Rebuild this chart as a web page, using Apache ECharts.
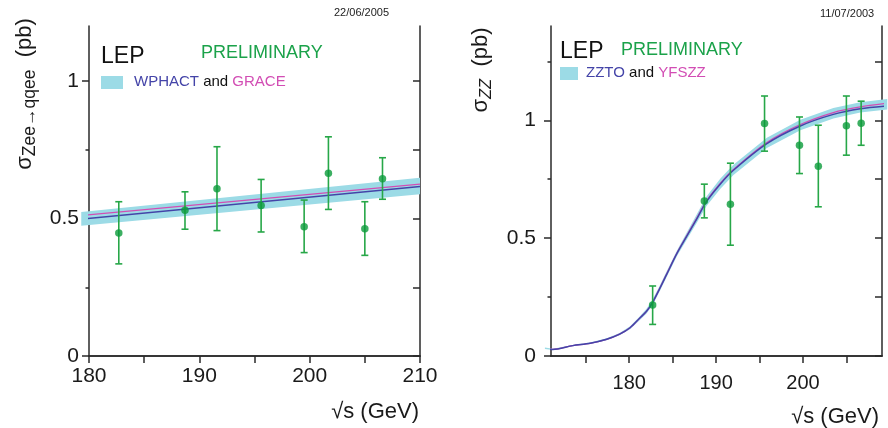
<!DOCTYPE html>
<html><head><meta charset="utf-8">
<script src="https://cdn.jsdelivr.net/npm/echarts@6/dist/echarts.min.js"></script>
<style>html,body{margin:0;padding:0;background:#fff}#c{width:888px;height:428px}</style>
</head><body><div id="c"></div>
<script>
// ---------- Left panel: sigma(Zee -> qqee) ----------
const zeeEnergy = [182.7, 188.7, 191.6, 195.6, 199.5, 201.7, 205.0, 206.6];
const zeeSigma  = [0.447, 0.530, 0.608, 0.547, 0.470, 0.665, 0.463, 0.645];
const zeeErrUp  = [0.114, 0.067, 0.153, 0.095, 0.097, 0.132, 0.098, 0.076];
const zeeErrDn  = [0.112, 0.069, 0.152, 0.096, 0.094, 0.132, 0.097, 0.075];
const zeeTheoryX     = [179.3, 210];
const zeeWphact      = [0.498, 0.616];
const zeeGrace       = [0.511, 0.625];
const zeeBandLow     = [0.474, 0.588];
const zeeBandHigh    = [0.524, 0.648];
const zeeXMajor = [180, 190, 200, 210];
const zeeXMinor = [185, 195, 205];
const zeeYMajor = [0, 0.5, 1];
const zeeYMinor = [0.25, 0.75];

// ---------- Right panel: sigma(ZZ) ----------
const zzEnergy = [182.7, 188.65, 191.65, 195.58, 199.6, 201.77, 205.0, 206.7];
const zzSigma  = [0.216, 0.658, 0.644, 0.986, 0.894, 0.805, 0.977, 0.987];
const zzErrUp  = [0.081, 0.071, 0.174, 0.117, 0.120, 0.174, 0.126, 0.094];
const zzErrDn  = [0.082, 0.072, 0.174, 0.117, 0.120, 0.172, 0.125, 0.093];
const zzTheoryX = [170.3, 171.2, 173.5, 175.5, 177.4, 178.9, 180.1, 181.2, 182.0, 182.7, 183.5, 184.3, 185.5, 186.6, 187.8, 188.9, 190.5, 192.0, 195.85, 199.7, 203.5, 206.6, 209.7];
const zzZzto    = [0.033, 0.028, 0.044, 0.054, 0.071, 0.093, 0.120, 0.160, 0.190, 0.228, 0.285, 0.345, 0.435, 0.506, 0.583, 0.655, 0.730, 0.788, 0.901, 0.976, 1.025, 1.049, 1.061];
const zzYfszz   = [0.033, 0.028, 0.044, 0.054, 0.071, 0.093, 0.120, 0.160, 0.190, 0.228, 0.286, 0.347, 0.437, 0.509, 0.586, 0.658, 0.733, 0.791, 0.906, 0.982, 1.033, 1.057, 1.072];
const zzBandLow = [0.030, 0.025, 0.041, 0.051, 0.067, 0.088, 0.114, 0.152, 0.180, 0.216, 0.274, 0.334, 0.424, 0.492, 0.566, 0.636, 0.710, 0.768, 0.882, 0.958, 1.008, 1.033, 1.046];
const zzBandHigh= [0.036, 0.031, 0.047, 0.057, 0.075, 0.098, 0.126, 0.168, 0.200, 0.240, 0.297, 0.358, 0.448, 0.522, 0.602, 0.677, 0.753, 0.811, 0.926, 1.002, 1.052, 1.077, 1.090];
const zzXMajor = [180, 190, 200];
const zzXMinor = [175, 185, 195, 205];
const zzYMajor = [0, 0.5, 1];
const zzYMinor = [0.25, 0.75, 1.25];

// ---------- styling ----------
const FONT = '"Liberation Sans", Arial, Helvetica, sans-serif';
const FRAME = '#2a2a2a';
const BAND = '#9cdbe6';
const BLUE = '#4444a8';
const MAGENTA = '#d24db4';
const GREEN_PT = '#0b9b3b';
const GREEN_ERR = '#27a748';
const GREEN_TXT = '#1ba24a';

function merge(a, b) { return a.concat(b).sort((p, q) => p - q); }

function axesFor(g, xr, yr, xMaj, xMin, yMaj, yMin, xLabelMargin, yLabelMargin, xFont) {
  const line = { show: true, lineStyle: { color: FRAME, width: 1.5 } };
  const xs = [
    { gridIndex: g, type: 'value', position: 'bottom', min: xr[0], max: xr[1], axisLine: line,
      axisTick: { show: true, customValues: xMaj, length: 7, inside: false, lineStyle: { color: FRAME, width: 1.5 } },
      axisLabel: { show: true, customValues: xMaj, fontSize: xFont, fontFamily: FONT, color: '#1a1a1a', margin: xLabelMargin },
      splitLine: { show: false } },
    { gridIndex: g, type: 'value', position: 'bottom', min: xr[0], max: xr[1], axisLine: { show: false },
      axisTick: { show: true, customValues: xMin, length: 3.5, inside: false, lineStyle: { color: FRAME, width: 1.5 } },
      axisLabel: { show: false }, splitLine: { show: false } },
    { gridIndex: g, type: 'value', position: 'top', min: xr[0], max: xr[1], axisLine: line,
      axisTick: { show: true, customValues: merge(xMaj, xMin), length: 7, inside: true, lineStyle: { color: FRAME, width: 1.5 } },
      axisLabel: { show: false }, splitLine: { show: false } }
  ];
  const ys = [
    { gridIndex: g, type: 'value', position: 'left', min: yr[0], max: yr[1], axisLine: line,
      axisTick: { show: true, customValues: yMaj, length: 7, inside: false, lineStyle: { color: FRAME, width: 1.5 } },
      axisLabel: { show: true, customValues: yMaj, fontSize: 21, fontFamily: FONT, color: '#1a1a1a', margin: yLabelMargin },
      splitLine: { show: false } },
    { gridIndex: g, type: 'value', position: 'left', min: yr[0], max: yr[1], axisLine: { show: false },
      axisTick: { show: true, customValues: yMin, length: 3.5, inside: false, lineStyle: { color: FRAME, width: 1.5 } },
      axisLabel: { show: false }, splitLine: { show: false } },
    { gridIndex: g, type: 'value', position: 'right', min: yr[0], max: yr[1], axisLine: line,
      axisTick: { show: true, customValues: merge(yMaj, yMin), length: 7, inside: true, lineStyle: { color: FRAME, width: 1.5 } },
      axisLabel: { show: false }, splitLine: { show: false } }
  ];
  return { xs, ys };
}

const L = axesFor(0, [180, 210], [0, 1.2], zeeXMajor, zeeXMinor, zeeYMajor, zeeYMinor, 10, 10, 21);
const R = axesFor(1, [171, 209.1], [0, 1.4], zzXMajor, zzXMinor, zzYMajor, zzYMinor, 17, 15, 20);

function pairs(xs, ys) { return xs.map((x, i) => [x, ys[i]]); }
function errData(xs, ys, up, dn) { return xs.map((x, i) => [x, ys[i] - dn[i], ys[i] + up[i]]); }

function panelSeries(xi, yi, tx, lo, hi, magenta, blue, ex, ey, eu, ed, smooth) {
  // band polygon: upper edge forward, lower edge backward, mapped through the axes
  const bandData = pairs(tx, hi).concat(pairs(tx, lo).reverse());
  return [
    { type: 'custom', xAxisIndex: xi, yAxisIndex: yi, data: [0], clip: false, silent: true, z: 1,
      renderItem: function (params, api) {
        const pts = bandData.map(p => api.coord(p));
        return { type: 'polygon', shape: { points: pts }, style: { fill: BAND, stroke: null } };
      } },
    { type: 'line', xAxisIndex: xi, yAxisIndex: yi, data: pairs(tx, magenta), symbol: 'none',
      lineStyle: { color: MAGENTA, width: 1.3 }, clip: false, smooth: smooth, z: 2 },
    { type: 'line', xAxisIndex: xi, yAxisIndex: yi, data: pairs(tx, blue), symbol: 'none',
      lineStyle: { color: BLUE, width: 1.5 }, clip: false, smooth: smooth, z: 3 },
    { type: 'custom', xAxisIndex: xi, yAxisIndex: yi, data: errData(ex, ey, eu, ed), z: 4,
      encode: { x: 0, y: [1, 2] },
      renderItem: function (params, api) {
        const x = api.value(0);
        const top = api.coord([x, api.value(2)]);
        const bot = api.coord([x, api.value(1)]);
        const w = 3.5;
        const st = { stroke: GREEN_ERR, lineWidth: 1.6 };
        return { type: 'group', children: [
          { type: 'line', shape: { x1: top[0], y1: top[1], x2: bot[0], y2: bot[1] }, style: st },
          { type: 'line', shape: { x1: top[0] - w, y1: top[1], x2: top[0] + w, y2: top[1] }, style: st },
          { type: 'line', shape: { x1: bot[0] - w, y1: bot[1], x2: bot[0] + w, y2: bot[1] }, style: st }
        ] };
      } },
    { type: 'scatter', xAxisIndex: xi, yAxisIndex: yi, data: pairs(ex, ey), symbol: 'circle', symbolSize: 7.5,
      itemStyle: { color: GREEN_PT }, z: 5 }
  ];
}

const series = [].concat(
  panelSeries(0, 0, zeeTheoryX, zeeBandLow, zeeBandHigh, zeeGrace, zeeWphact, zeeEnergy, zeeSigma, zeeErrUp, zeeErrDn, false),
  panelSeries(3, 3, zzTheoryX, zzBandLow, zzBandHigh, zzYfszz, zzZzto, zzEnergy, zzSigma, zzErrUp, zzErrDn, 0.3)
);

function txt(x, y, text, size, color, align, extra) {
  return Object.assign({ type: 'text', x: x, y: y, z: 10,
    style: { text: text, fontSize: size, fontFamily: FONT, fill: color, align: align || 'left', verticalAlign: 'middle' } }, extra || {});
}

const graphic = [
  // left panel
  txt(334, 13, '22/06/2005', 11, '#222'),
  txt(101, 57, 'LEP', 23, '#111'),
  txt(201, 53, 'PRELIMINARY', 18, GREEN_TXT),
  { type: 'rect', shape: { x: 101, y: 76, width: 22, height: 13 }, style: { fill: BAND }, z: 10 },
  { type: 'text', x: 134, y: 82, z: 10, style: { text: '{b|WPHACT} and {m|GRACE}', fontSize: 15, fontFamily: FONT, fill: '#111',
      verticalAlign: 'middle', rich: { b: { fill: BLUE, fontSize: 15, fontFamily: FONT }, m: { fill: MAGENTA, fontSize: 15, fontFamily: FONT } } } },
  txt(419, 412, '√s (GeV)', 22, '#1a1a1a', 'right'),
  { type: 'text', x: 25, y: 94, rotation: Math.PI / 2, z: 10,
    style: { text: '{m|σ}{s|Zee→qqee}{m|  (pb)}', align: 'center', verticalAlign: 'middle', fill: '#1a1a1a',
      rich: { m: { fontSize: 22, fontFamily: FONT, lineHeight: 28, fill: '#1a1a1a' },
              s: { fontSize: 17.5, fontFamily: FONT, verticalAlign: 'bottom', fill: '#1a1a1a' } } } },
  // right panel
  txt(820, 14, '11/07/2003', 11, '#222'),
  txt(560, 52, 'LEP', 23, '#111'),
  txt(621, 50, 'PRELIMINARY', 18, GREEN_TXT),
  { type: 'rect', shape: { x: 560, y: 67, width: 18, height: 13 }, style: { fill: BAND }, z: 10 },
  { type: 'text', x: 586, y: 73, z: 10, style: { text: '{b|ZZTO} and {m|YFSZZ}', fontSize: 15, fontFamily: FONT, fill: '#111',
      verticalAlign: 'middle', rich: { b: { fill: BLUE, fontSize: 15, fontFamily: FONT }, m: { fill: MAGENTA, fontSize: 15, fontFamily: FONT } } } },
  txt(879, 417, '√s (GeV)', 22, '#1a1a1a', 'right'),
  { type: 'text', x: 481, y: 70, rotation: Math.PI / 2, z: 10,
    style: { text: '{m|σ}{s|ZZ}{m|  (pb)}', align: 'center', verticalAlign: 'middle', fill: '#1a1a1a',
      rich: { m: { fontSize: 22, fontFamily: FONT, lineHeight: 28, fill: '#1a1a1a' },
              s: { fontSize: 16.5, fontFamily: FONT, fontStyle: 'italic', verticalAlign: 'bottom', fill: '#1a1a1a' } } } }
];

const chart = echarts.init(document.getElementById('c'), null, { renderer: 'canvas' });
chart.setOption({
  animation: false,
  backgroundColor: '#ffffff',
  grid: [
    { left: 89, top: 26, width: 331, height: 330 },
    { left: 551, top: 26, width: 331, height: 330 }
  ],
  xAxis: L.xs.concat(R.xs),
  yAxis: L.ys.concat(R.ys),
  series: series,
  graphic: graphic
});
</script>
</body></html>
